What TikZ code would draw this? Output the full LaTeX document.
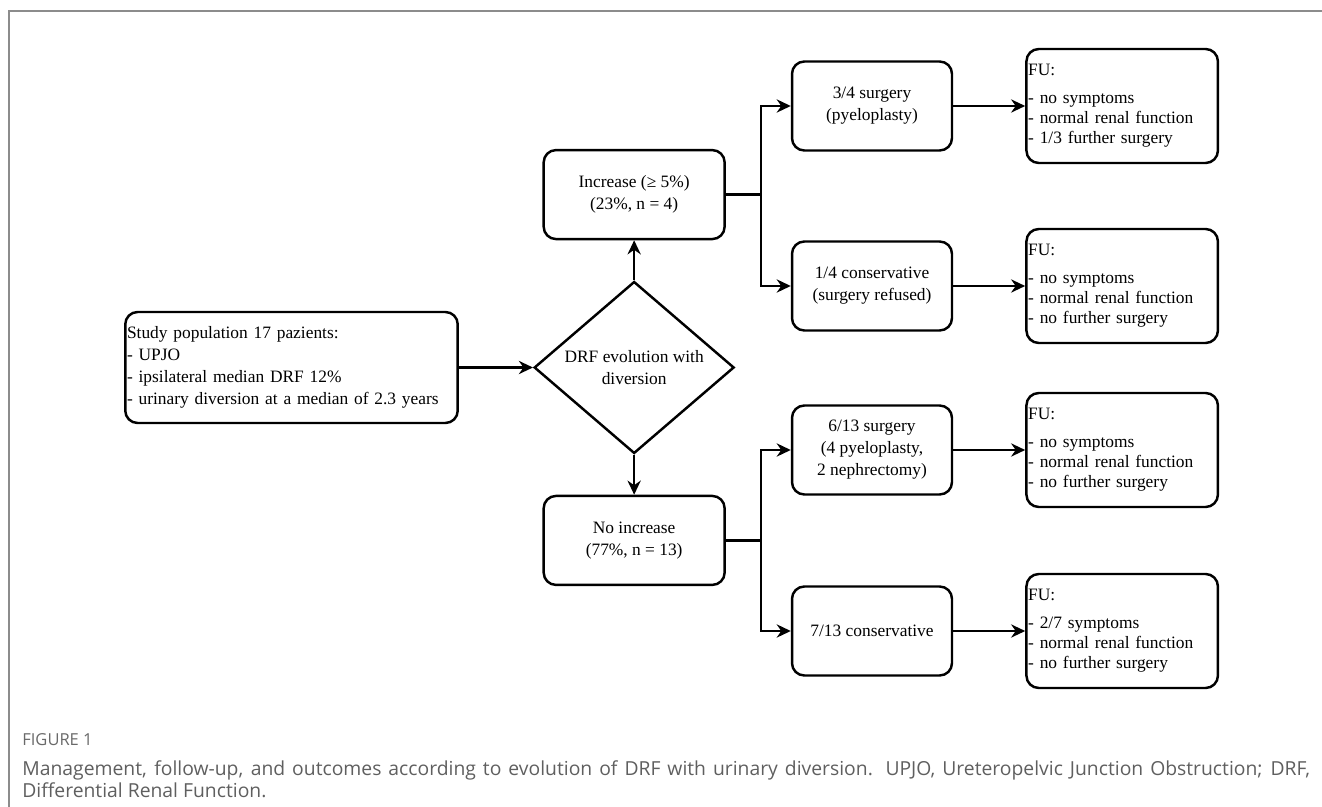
\documentclass[tikz,border=0pt]{standalone}
\usepackage{fontspec}
\setmainfont{Liberation Serif}
\setsansfont{Open Sans}
\usetikzlibrary{shapes.geometric, arrows.meta, positioning}
\definecolor{cFrame}{RGB}{140, 140, 140}
\definecolor{tCap}{RGB}{95, 95, 95}
\definecolor{tLabel}{RGB}{105, 105, 105}
\definecolor{tDark}{RGB}{0, 0, 0}

\begin{document}
\begin{tikzpicture}[
    x=0.02cm, y=-0.02cm,
    font=\fontsize{9.9}{12.5}\selectfont,
    >={Stealth[length=8pt, width=7.5pt]},
    block/.style={
        draw=tDark,
        line width=1.4pt,
        rounded corners=7pt,
        align=center,
        inner sep=1pt
    },
    stage/.style={block, minimum width=3.62cm, minimum height=1.78cm},
    branch/.style={block, minimum width=3.2cm, minimum height=1.78cm},
    followup/.style={block, align=left, text width=3.76cm, inner xsep=1pt,
        minimum height=2.28cm, font=\fontsize{9.9}{11.6}\selectfont},
    decision/.style={diamond, draw=tDark, line width=1.4pt, align=center,
        aspect=1.16, inner sep=0pt, minimum width=4cm, minimum height=3.44cm},
    arrow/.style={->, line width=1.4pt, color=tDark},
    capfont/.style={font=\sffamily\fontsize{11}{12.5}\selectfont, text=tCap, inner sep=0pt}
]
\useasboundingbox (0,0) rectangle (1322,807);

% figure frame
\draw[cFrame, line width=0.9pt] (9,807) -- (9,11) -- (1322,11);

\node[block, align=left, text width=6.58cm, minimum height=2.22cm, inner xsep=1pt] (start) at (291.5,367.5) {
    Study population 17 pazients:\\
    - UPJO\\
    - ipsilateral median DRF 12\%\\
    - urinary diversion at a median of 2.3 years
};

\node[decision, right=1.48cm of start] (drf) {DRF evolution with\\diversion};

\node[stage, above=0.8cm of drf] (incr) {Increase (≥ 5\%)\\(23\%, n = 4)};
\node[stage, below=0.8cm of drf] (noincr) {No increase\\(77\%, n = 13)};

\node[branch] (surg1) at (872,106) {3/4 surgery\\(pyeloplasty)};
\node[branch] (cons1) at (872,286) {1/4 conservative\\(surgery refused)};
\node[branch] (surg2) at (872,450) {6/13 surgery\\(4 pyeloplasty,\\2 nephrectomy)};
\node[branch] (cons2) at (872,631) {7/13 conservative};

\node[followup, right=1.44cm of surg1] (fu1) {FU:\\[4pt]- no symptoms\\- normal renal function\\- 1/3 further surgery};
\node[followup, right=1.44cm of cons1] (fu2) {FU:\\[4pt]- no symptoms\\- normal renal function\\- no further surgery};
\node[followup, right=1.44cm of surg2] (fu3) {FU:\\[4pt]- no symptoms\\- normal renal function\\- no further surgery};
\node[followup, right=1.44cm of cons2] (fu4) {FU:\\[4pt]- 2/7 symptoms\\- normal renal function\\- no further surgery};

\coordinate (splitUp) at ([xshift=0.7cm]incr.east);
\coordinate (splitDown) at ([xshift=0.7cm]noincr.east);

\draw[arrow] (start) -- (drf);
\draw[arrow] (drf) -- (incr);
\draw[arrow] (drf) -- (noincr);
\draw[arrow] (incr.east) -- (splitUp) |- (surg1.west);
\draw[arrow] (splitUp) |- (cons1.west);
\draw[arrow] (noincr.east) -- (splitDown) |- (surg2.west);
\draw[arrow] (splitDown) |- (cons2.west);
\draw[arrow] (surg1) -- (fu1);
\draw[arrow] (cons1) -- (fu2);
\draw[arrow] (surg2) -- (fu3);
\draw[arrow] (cons2) -- (fu4);

% caption
\node[capfont, font=\sffamily\fontsize{9.4}{12}\selectfont, text=tLabel, anchor=base west] (figlabel) at (22,745) {FIGURE 1};
\node[capfont, anchor=base west] (capA) at (22,775) {\makebox[25.76cm][s]{Management, follow-up, and outcomes according to evolution of DRF with urinary diversion. UPJO, Ureteropelvic Junction Obstruction; DRF,}};
\node[capfont, anchor=base west] (capB) at (22,797) {Differential Renal Function.};

\end{tikzpicture}
\end{document}
